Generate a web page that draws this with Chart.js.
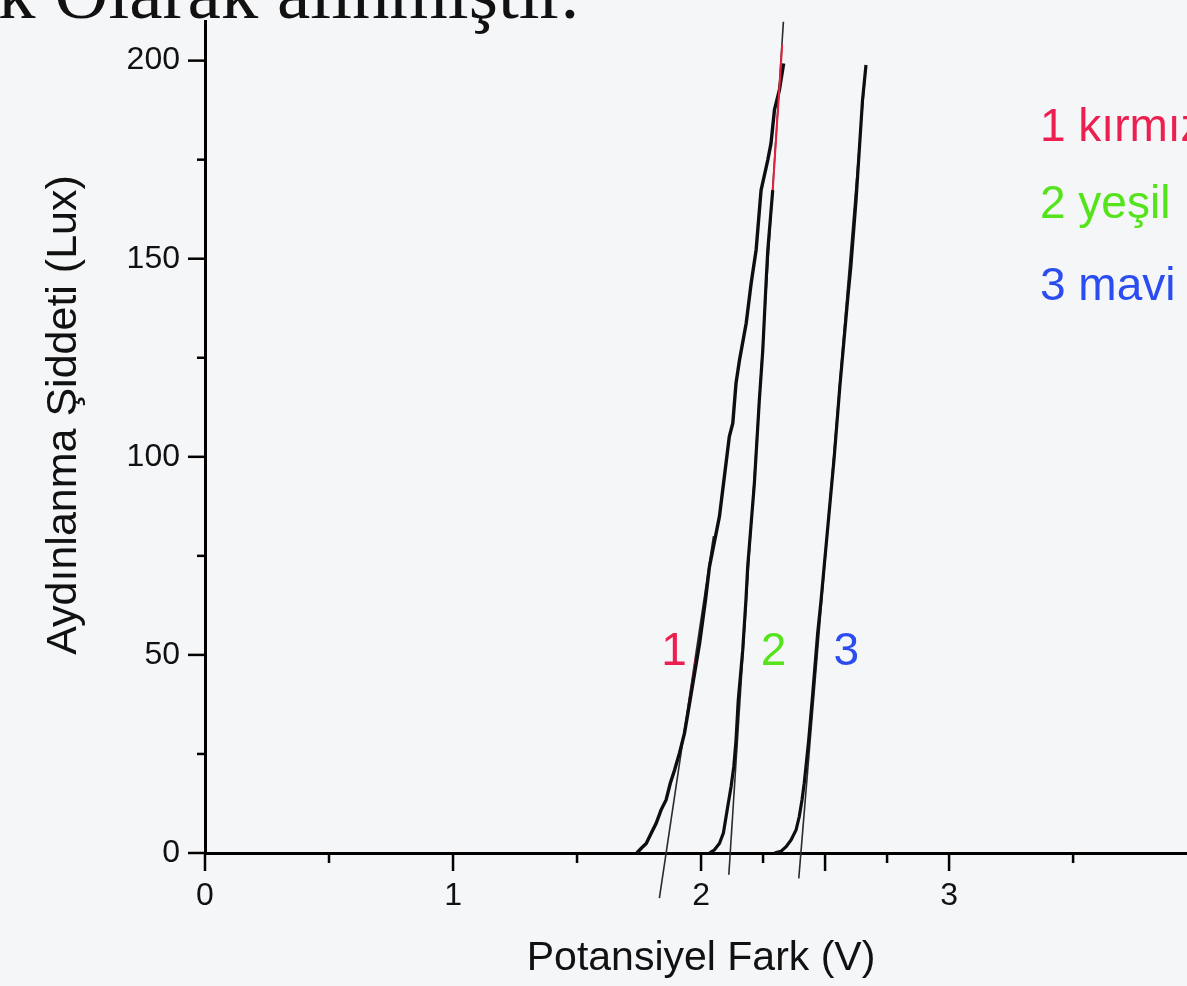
<!DOCTYPE html>
<html>
<head>
<meta charset="utf-8">
<script src="https://cdn.jsdelivr.net/npm/chart.js@4.4.1/dist/chart.umd.min.js"></script>
<style>
html,body{margin:0;padding:0;background:#f5f6f8;overflow:hidden;width:1187px;height:986px;}
#wrap{position:absolute;left:0;top:0;width:1230px;height:986px;}
.top{position:absolute;left:-2px;top:-45px;font:75px/1 "Liberation Serif",serif;color:#111;white-space:nowrap;}
.leg{position:absolute;left:1040px;font:46px/1 "Liberation Sans",Arial,sans-serif;white-space:nowrap;}
</style>
</head>
<body>
<div class="top">k Olarak alınmıştır.</div>
<div id="wrap"><canvas id="ivChart" width="1230" height="986"></canvas></div>
<div class="leg" style="top:102px;color:#ec1f50">1 kırmızı</div>
<div class="leg" style="top:179px;color:#55e31c">2 yeşil</div>
<div class="leg" style="top:261px;color:#2a4cf0">3 mavi</div>
<script>
// values: potential (V) and illuminance (Lux)
const curve1V = [1.741,1.759,1.779,1.799,1.819,1.839,1.859,1.876,1.893,1.913,1.933,1.947,1.967,1.994,2.018,2.034,2.074,2.114,2.128,2.141,2.155,2.182,2.202,2.222,2.242,2.269,2.282,2.296,2.316,2.333];
const curve1I = [0,1.2,2.4,5.0,7.5,10.9,13.4,17.6,20.9,25.2,30.2,35.3,42.8,52.9,63.9,72.3,84.9,105.1,108.5,118.6,124.4,133.7,143.8,152.2,167.3,174.9,179.1,187.6,192.6,199.3];

const curve2V = [2.034,2.054,2.074,2.090,2.101,2.112,2.121,2.132,2.141,2.150,2.168,2.181,2.188,2.215,2.235,2.249,2.262,2.269,2.289];
const curve2I = [0,0.8,2.4,5.0,9.2,13.4,16.7,21.8,28.5,38.6,51.2,63.9,72.3,93.3,114.3,127.0,143.8,152.2,167.3];

const curve3V = [2.296,2.322,2.343,2.363,2.383,2.396,2.407,2.416,2.423,2.434,2.450,2.470,2.484,2.515,2.537,2.560,2.591,2.604,2.625,2.638,2.651,2.665];
const curve3I = [0,0.4,1.6,3.3,5.8,9.2,13.4,17.6,21.8,28.5,40.0,55.4,63.9,85,100,118,139.6,148.0,164.8,177.4,190.0,198.9];

// straight fit lines (end points)
const tan1V = [1.832, 2.050], tan1I = [-11.4, 80];
const tan2V = [2.112, 2.332], tan2I = [-5.5, 209.8];
const tan3V = [2.394, 2.665], tan3I = [-6.4, 198.9];
const fitRedV = [2.289, 2.327], fitRedI = [167.3, 204];
const fitRed1V = [1.945, 1.978], fitRed1I = [35, 49];

const xTicks = [0,0.5,1,1.5,2,2.25,2.5,2.75,3,3.5,4];
const xMajor = [0,1,2,2.5,3,4];
const yTicks = [0,25,50,75,100,125,150,175,200];
const yMajor = [0,50,100,150,200];

const curveLabels = ['1','2','3'];
const labelV = [1.891, 2.292, 2.586];
const labelI = [51.7, 51.7, 51.7];
const labelColors = ['#ec1f50','#55e31c','#2a4cf0'];

const pts = (xs, ys) => xs.map((v, i) => ({x: v, y: ys[i]}));

const FONT = '"Liberation Sans", Arial, sans-serif';
Chart.defaults.font.family = FONT;

const extras = {
  id: 'extras',
  afterDraw(chart) {
    const {ctx, chartArea, scales: {x, y}} = chart;
    ctx.save();
    ctx.strokeStyle = '#000';
    ctx.lineWidth = 2.5;
    xTicks.forEach(v => {
      const p = x.getPixelForValue(v);
      const len = xMajor.includes(v) ? 18 : 10;
      ctx.beginPath();
      ctx.moveTo(p, chartArea.bottom);
      ctx.lineTo(p, chartArea.bottom + len);
      ctx.stroke();
    });
    yTicks.forEach(v => {
      const p = y.getPixelForValue(v);
      const len = yMajor.includes(v) ? 17 : 8;
      ctx.beginPath();
      ctx.moveTo(chartArea.left, p);
      ctx.lineTo(chartArea.left - len, p);
      ctx.stroke();
    });

    // curve numbers, centred on the digit height
    ctx.font = '46px ' + FONT;
    ctx.textAlign = 'center';
    ctx.textBaseline = 'alphabetic';
    curveLabels.forEach((t, i) => {
      ctx.fillStyle = labelColors[i];
      ctx.fillText(t, x.getPixelForValue(labelV[i]), y.getPixelForValue(labelI[i]) + 16.5);
    });

    ctx.fillStyle = '#111';
    ctx.font = '43px ' + FONT;
    ctx.textBaseline = 'middle';
    ctx.translate(64, 415);
    ctx.rotate(-Math.PI / 2);
    ctx.fillText('Aydınlanma Şiddeti (Lux)', 0, 0);
    ctx.restore();
  }
};

const line = (data, color, width, order) => ({
  data, borderColor: color, borderWidth: width, showLine: true,
  pointRadius: 0, fill: false, tension: 0, clip: false, order
});

new Chart(document.getElementById('ivChart'), {
  type: 'scatter',
  data: {
    datasets: [
      line(pts(fitRedV, fitRedI), '#e8203c', 2, 0),
      line(pts(curve1V, curve1I), '#0d0d12', 3.4, 1),
      line(pts(curve2V, curve2I), '#0d0d12', 3.2, 1),
      line(pts(curve3V, curve3I), '#0d0d12', 3.2, 1),
      line(pts(fitRed1V, fitRed1I), 'rgba(232,32,60,0.7)', 2, 2),
      line(pts(tan1V, tan1I), '#2a2a30', 1.6, 3),
      line(pts(tan2V, tan2I), '#2a2a30', 1.6, 3),
      line(pts(tan3V, tan3I), '#2a2a30', 1.6, 3)
    ]
  },
  options: {
    responsive: false,
    animation: false,
    layout: {padding: {top: 21, right: 14, left: 0, bottom: 3}},
    plugins: {legend: {display: false}, tooltip: {enabled: false}},
    scales: {
      x: {
        type: 'linear', min: 0, max: 4,
        afterFit: s => { s.height = 130; },
        afterBuildTicks: s => { s.ticks = xTicks.map(v => ({value: v})); },
        ticks: {
          autoSkip: false, maxRotation: 0, padding: 24, color: '#111',
          font: {size: 32},
          callback: v => Number.isInteger(v) ? v : ''
        },
        grid: {display: false, drawTicks: false},
        border: {color: '#000', width: 3},
        title: {display: true, text: 'Potansiyel Fark (V)', color: '#111', font: {size: 41}, padding: {top: 0, bottom: 0}}
      },
      y: {
        min: 0, max: 210,
        afterFit: s => { s.width = 205; s.paddingTop = 0; s.paddingBottom = 0; },
        afterBuildTicks: s => { s.ticks = yTicks.map(v => ({value: v})); },
        ticks: {
          padding: 25, color: '#111',
          font: {size: 32},
          callback: v => v % 50 === 0 ? v : ''
        },
        grid: {display: false, drawTicks: false},
        border: {color: '#000', width: 3}
      }
    }
  },
  plugins: [extras]
});
</script>
</body>
</html>
